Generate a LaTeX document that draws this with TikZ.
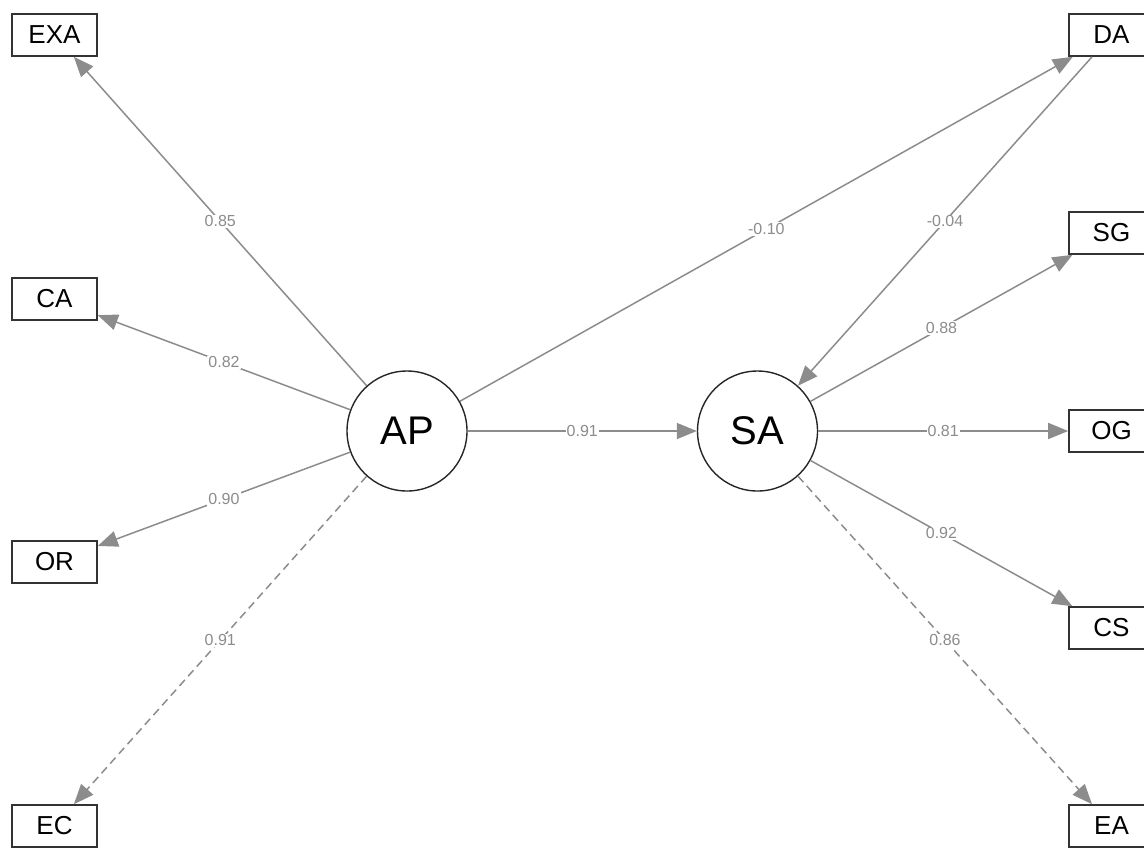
\documentclass[tikz,border=0pt]{standalone}
\usepackage{fontspec}
\setmainfont{Liberation Sans}
\usetikzlibrary{arrows.meta}

\begin{document}
\begin{tikzpicture}[
x=0.5pt, y=-0.5pt,
manifest/.style={draw=black!80, line width=0.8pt,
              minimum width=42.5pt, minimum height=21pt, inner sep=0pt,
              font=\fontsize{13}{13}\selectfont},
latent/.style={circle, draw=black!85, line width=0.7pt,
              minimum size=60pt, inner sep=0pt,
              font=\fontsize{20}{20}\selectfont},
loading/.style={draw=black!45, line width=0.75pt,
              -{Triangle[length=10pt,width=8pt]}},
resid/.style={loading, dash pattern=on 4pt off 2.5pt},
coef/.style={midway, fill=white, inner sep=0.5pt, text=black!45,
              font=\fontsize{8}{8}\selectfont}
]
\clip (0,0) rectangle (1144,847);

% latent variables
\node[latent] (ap) at (407,431) {AP};
\node[latent] (sa) at (757.5,431) {SA};

% indicators of AP
\node[manifest] (exa) at (54.5,35) {EXA};
\node[manifest] (ca) at (54.5,299) {CA};
\node[manifest] (or) at (54.5,562) {OR};
\node[manifest] (ec) at (54.5,826) {EC};

% indicators of SA
\node[manifest] (da) at (1111.5,35) {DA};
\node[manifest] (sg) at (1111.5,233) {SG};
\node[manifest] (og) at (1111.5,431) {OG};
\node[manifest] (cs) at (1111.5,628) {CS};
\node[manifest] (ea) at (1111.5,826) {EA};

% paths with estimates
\foreach \from/\to/\val in {ap/exa/0.85, ap/ca/0.82, ap/or/0.90, ap/da/-0.10,
  ap/sa/0.91, da/sa/-0.04, sa/sg/0.88, sa/og/0.81, sa/cs/0.92} {
  \draw[loading] (\from) -- node[coef] {\val} (\to);
}
\foreach \from/\to/\val in {ap/ec/0.91, sa/ea/0.86} {
  \draw[resid] (\from) -- node[coef] {\val} (\to);
}

\end{tikzpicture}
\end{document}
